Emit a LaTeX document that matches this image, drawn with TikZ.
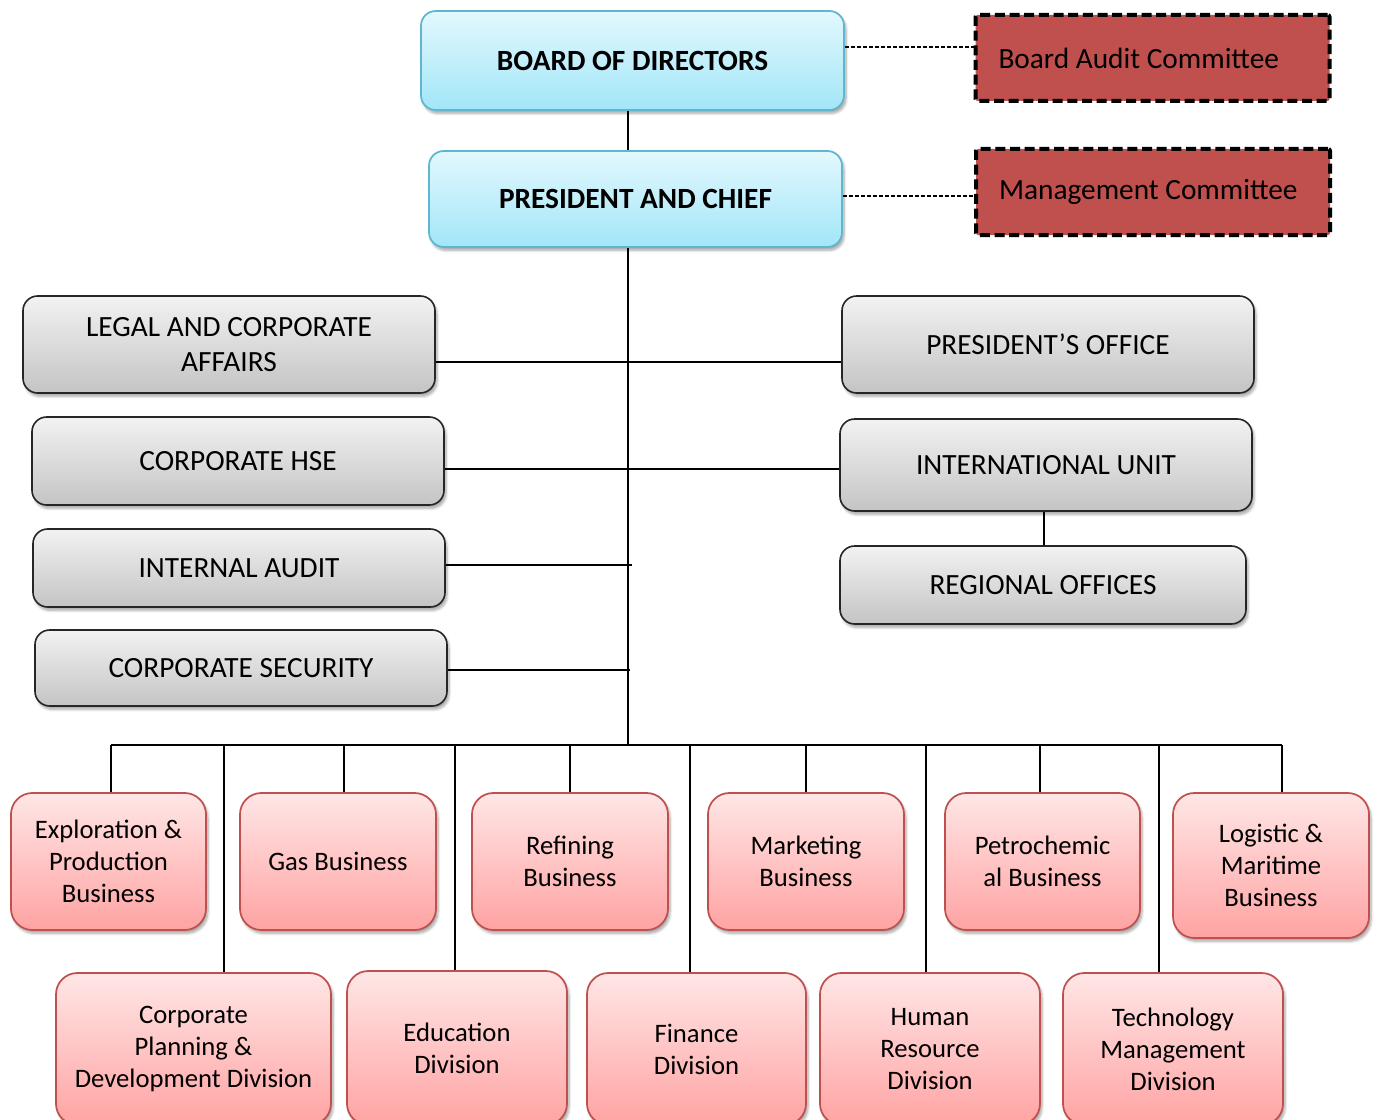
\documentclass[tikz,border=0pt]{standalone}
\usepackage{fontspec}
\setmainfont{Carlito}
\usetikzlibrary{shadows,shadows.blur}

\definecolor{blueTop}{HTML}{E3F8FE}
\definecolor{blueBot}{HTML}{A2E6F8}
\definecolor{blueEdge}{HTML}{5DB7CF}
\definecolor{grayTop}{HTML}{F2F2F2}
\definecolor{grayBot}{HTML}{C4C4C4}
\definecolor{pinkTop}{HTML}{FFE6E6}
\definecolor{pinkBot}{HTML}{FFA3A3}
\definecolor{pinkEdge}{HTML}{C0504D}
\definecolor{cmteFill}{HTML}{C0504D}

\tikzset{
  sz/.style 2 args={minimum width=#1*0.75pt, minimum height=#2*0.75pt},
  unitbox/.style={rounded corners=11pt, inner sep=2pt, align=center,
    font=\fontsize{20}{24}\selectfont,
    blur shadow={shadow xshift=1.5pt, shadow yshift=-2.5pt, shadow blur steps=6, shadow opacity=35}},
  bluebox/.style={unitbox, draw=blueEdge, line width=1.3pt, top color=blueTop, bottom color=blueBot,
    font=\fontsize{22}{26}\selectfont\bfseries},
  graybox/.style={unitbox, draw=black!85, line width=1.2pt, top color=grayTop, bottom color=grayBot,
    font=\fontsize{22}{26}\selectfont},
  pinkbox/.style={unitbox, rounded corners=16pt, draw=pinkEdge, line width=1.3pt, top color=pinkTop, bottom color=pinkBot},
  cmtebox/.style={draw=black, fill=cmteFill, line width=3pt, dash pattern=on 7.5pt off 3.5pt,
    rounded corners=1.5pt, font=\fontsize{22}{26}\selectfont, align=flush left,
    text width=231pt, inner xsep=17.25pt, inner ysep=0pt},
  link/.style={draw=black, line width=1.1pt},
  dotlink/.style={draw=black, line width=0.8pt, dash pattern=on 3pt off 1.5pt},
}

\begin{document}
\begin{tikzpicture}[x=0.75pt, y=-0.75pt]
\clip (0,0) rectangle (1378,1120);

% top management
\node[bluebox, sz={423}{99}] (board) at (632.5,60.5) {BOARD OF DIRECTORS};
\node[bluebox, sz={413}{96}] (pres) at (635.5,199) {PRESIDENT AND CHIEF};
\node[cmtebox, sz={353}{86}] (bac) at (1152.5,58) {Board Audit Committee};
\node[cmtebox, sz={354}{86}] (mgmt) at (1153,192) {Management Committee};

% staff units
\node[graybox, sz={412}{97}] (legal) at (229,344.5) {LEGAL AND CORPORATE\\AFFAIRS};
\node[graybox, sz={412}{97}] (poffice) at (1048,344.5) {PRESIDENT’S OFFICE};
\node[graybox, sz={412}{88}] (hse) at (238,461) {CORPORATE HSE};
\node[graybox, sz={412}{92}] (intl) at (1046,465) {INTERNATIONAL UNIT};
\node[graybox, sz={412}{78}] (audit) at (239,568) {INTERNAL AUDIT};
\node[graybox, sz={406}{78}] (regional) at (1043,585) {REGIONAL OFFICES};
\node[graybox, sz={412}{76}] (security) at (241,668) {CORPORATE SECURITY};

% businesses
\node[pinkbox, sz={195}{137}] (expl) at (108.5,861.5) {Exploration \&\\Production\\Business};
\node[pinkbox, sz={196}{137}] (gas) at (338,861.5) {Gas Business};
\node[pinkbox, sz={196}{137}] (refin) at (570,861.5) {Refining\\Business};
\node[pinkbox, sz={196}{137}] (market) at (806,861.5) {Marketing\\Business};
\node[pinkbox, sz={195}{137}] (petro) at (1042.5,861.5) {Petrochemic\\al Business};
\node[pinkbox, sz={196}{145}] (logis) at (1271,865.5) {Logistic \&\\Maritime\\Business};

% divisions
\node[pinkbox, sz={275}{152}] (corpplan) at (193.5,1049) {Corporate\\Planning \&\\Development Division};
\node[pinkbox, sz={220}{154}] (edu) at (457,1048) {Education\\Division};
\node[pinkbox, sz={219}{152}] (fin) at (696.5,1049) {Finance\\Division};
\node[pinkbox, sz={220}{152}] (hr) at (930,1049) {Human\\Resource\\Division};
\node[pinkbox, sz={220}{152}] (tech) at (1173,1049) {Technology\\Management\\Division};

% helper coordinates
\coordinate (tx) at (628,0);
\coordinate (busL) at (111,745);
\coordinate (busR) at (1282,745);
\coordinate (busM) at (628,745);
\coordinate (yBAC) at (0,47);
\coordinate (yMC) at (0,196);
\coordinate (yLegal) at (0,362);
\coordinate (yHSE) at (0,469);
\coordinate (auditEnd) at (632,565);
\coordinate (secEnd) at (630,670);
\coordinate (rx) at (1044,0);

% committee links
\draw[dotlink] (board.east |- yBAC) -- (bac.west |- yBAC);
\draw[dotlink] (pres.east |- yMC) -- (mgmt.west |- yMC);

% main trunk
\draw[link] (board.south -| tx) -- (pres.north -| tx);
\draw[link] (pres.south -| tx) -- (busM);

% staff links
\draw[link] (legal.east |- yLegal) -- (poffice.west |- yLegal);
\draw[link] (hse.east |- yHSE) -- (intl.west |- yHSE);
\draw[link] (audit.east |- auditEnd) -- (auditEnd);
\draw[link] (security.east |- secEnd) -- (secEnd);
\draw[link] (intl.south -| rx) -- (regional.north -| rx);

% bus and drops
\draw[link] (busL) -- (busR);
\foreach \n/\x in {expl/111, gas/344, refin/570, market/806, petro/1040, logis/1282,
                   corpplan/224, edu/455, fin/690, hr/926, tech/1159} {
  \draw[link] (\x,745) -- (\n.north -| {\x,0});
}
\end{tikzpicture}
\end{document}
